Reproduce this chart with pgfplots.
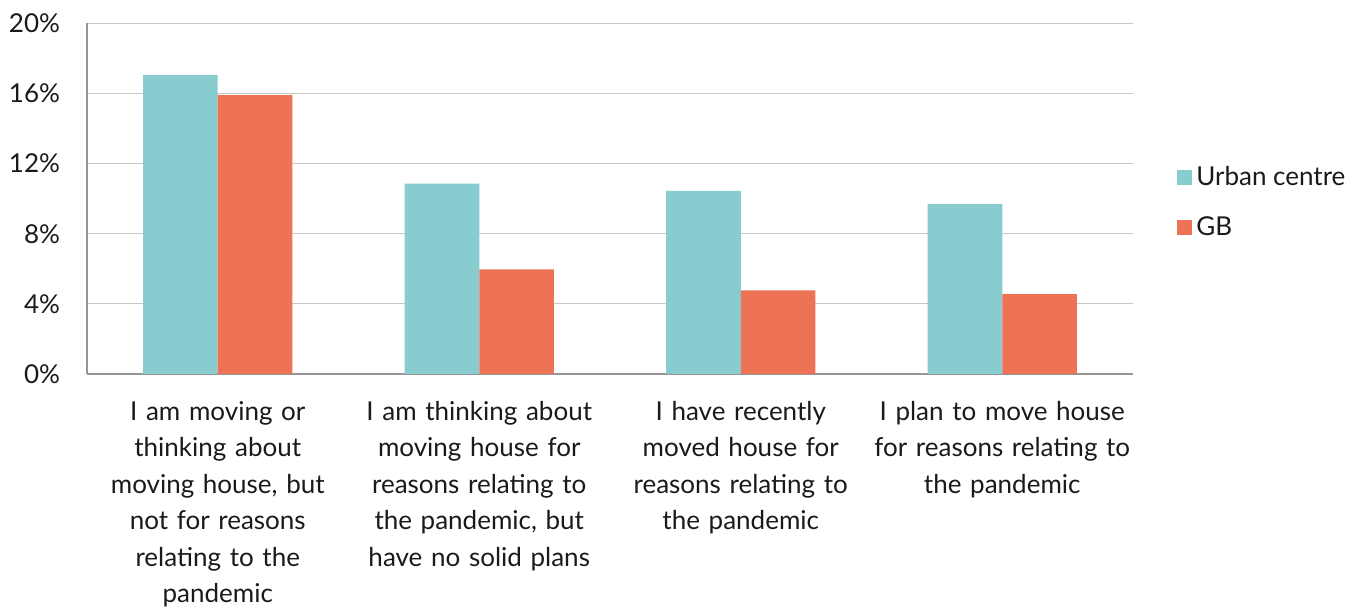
\documentclass[border=0pt]{standalone}
\usepackage{fontspec}
\setmainfont{Lato}
\usepackage{pgfplots}
\pgfplotsset{compat=1.18}
\definecolor{teal1}{RGB}{136,204,208}
\definecolor{orange1}{RGB}{238,114,86}
\definecolor{gridc}{RGB}{200,200,200}
\definecolor{axisc}{RGB}{150,150,150}
\definecolor{txt}{RGB}{26,26,26}
\begin{document}
\begin{tikzpicture}[x=1pt,y=1pt]
\useasboundingbox (0,0) rectangle (685.5,305);
\begin{axis}[
 at={(43.5pt,118pt)}, anchor=south west,
 scale only axis, width=523pt, height=175.35pt,
 xmin=-0.5, xmax=3.5, ymin=0, ymax=20,
 ybar=0pt, bar width=37.35pt,
 xtick={0,1,2,3},
 xticklabels={{I am moving or\\thinking about\\moving house, but\\not for reasons\\relating to the\\pandemic},
 {I am thinking about\\moving house for\\reasons relating to\\the pandemic, but\\have no solid plans},
 {I have recently\\moved house for\\reasons relating to\\the pandemic},
 {I plan to move house\\for reasons relating to\\the pandemic}},
 x tick label style={text width=140pt, align=center, font=\fontsize{13}{18.25}\selectfont, anchor=north, yshift=-10pt},
 ytick={0,4,...,20}, yticklabels={0\%,4\%,8\%,12\%,16\%,20\%},
 y tick label style={font=\fontsize{13}{15}\selectfont, xshift=-10pt},
 tick label style={text=txt},
 major tick length=0pt,
 ymajorgrids, grid style={gridc, line width=0.6pt},
 axis x line*=bottom, axis y line*=left,
 axis line style={axisc, line width=0.7pt},
 legend style={draw=none, fill=none, at={(1.042,0.49)}, anchor=west, font=\fontsize{13}{15}\selectfont, row sep=10pt, text=txt, inner sep=0pt},
 legend cell align=left,
 legend image code/.code={\fill[#1] (0pt,-3.75pt) rectangle (7.5pt,3.75pt);},
]
\addplot[fill=teal1, draw=none] coordinates {(0,17.05) (1,10.85) (2,10.45) (3,9.70)};
\addplot[fill=orange1, draw=none] coordinates {(0,15.9) (1,5.97) (2,4.77) (3,4.56)};
\legend{Urban centre, GB}
\end{axis}
\end{tikzpicture}
\end{document}
